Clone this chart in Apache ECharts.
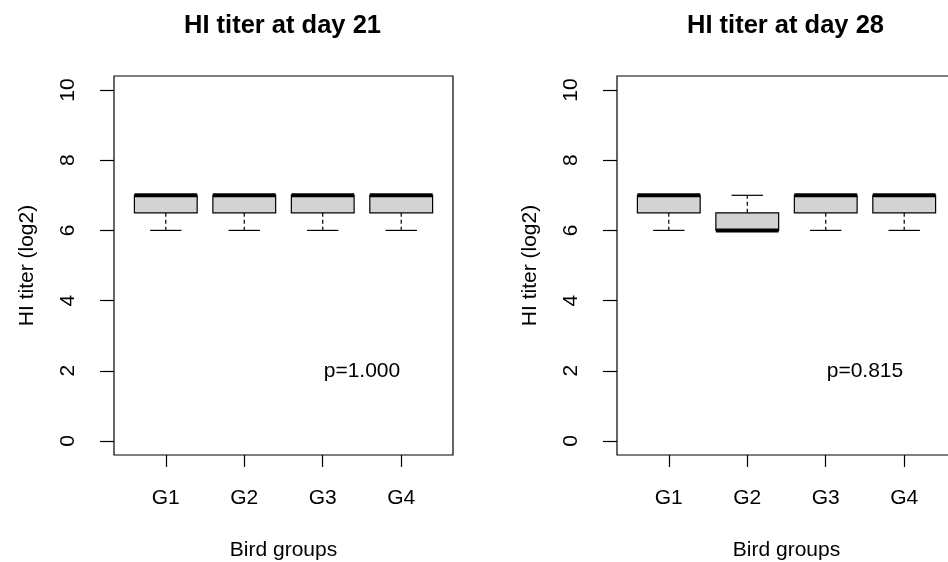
<!DOCTYPE html>
<html>
<head>
<meta charset="utf-8">
<script src="https://cdn.jsdelivr.net/npm/echarts@6/dist/echarts.min.js"></script>
<style>html,body{margin:0;padding:0;background:#fff}#c{width:948px;height:562px}</style>
</head>
<body>
<div id="c"></div>
<script>
// ---- data ----
var categories = ['G1', 'G2', 'G3', 'G4'];
var panelTitles = ['HI titer at day 21', 'HI titer at day 28'];
// [min, Q1, median, Q3, max] per group
var day21Stats = [[6, 6.5, 7, 7, 7], [6, 6.5, 7, 7, 7], [6, 6.5, 7, 7, 7], [6, 6.5, 7, 7, 7]];
var day28Stats = [[6, 6.5, 7, 7, 7], [6, 6, 6, 6.5, 7], [6, 6.5, 7, 7, 7], [6, 6.5, 7, 7, 7]];
var pValueTexts = ['p=1.000', 'p=0.815'];
var pLabelPos = [3.5, 2];
var yTicks = [0, 2, 4, 6, 8, 10];
var xTicks = [1, 2, 3, 4];
var xName = 'Bird groups';
var yName = 'HI titer (log2)';

var FONT = 'Liberation Sans, Arial, sans-serif';
var panels = [day21Stats, day28Stats];
var gridLefts = [114, 617];
var GW = 339, GT = 76, GH = 379;

var option = {
  animation: false,
  backgroundColor: '#fff',
  title: [], grid: [], xAxis: [], yAxis: [], series: []
};

panels.forEach(function (stats, i) {
  option.title.push({
    text: panelTitles[i], left: gridLefts[i] + GW / 2 - 6, top: 8, textAlign: 'center',
    textStyle: { fontFamily: FONT, fontSize: 25.5, fontWeight: 'bold', color: '#000' }
  });
  option.grid.push({
    left: gridLefts[i], top: GT, width: GW, height: GH,
    outerBoundsMode: 'none', containLabel: false,
    show: true, borderColor: '#000', borderWidth: 1.2, backgroundColor: 'transparent'
  });
  option.xAxis.push({
    gridIndex: i, type: 'value', min: 0.34, max: 4.66,
    name: xName, nameLocation: 'middle', nameGap: 85,
    nameTextStyle: { fontFamily: FONT, fontSize: 21, color: '#000' },
    axisLine: { show: false, onZero: false },
    splitLine: { show: false },
    axisTick: { show: true, customValues: xTicks, length: 12, lineStyle: { color: '#000', width: 1.2 } },
    axisLabel: {
      customValues: xTicks, margin: 33, fontFamily: FONT, fontSize: 21, color: '#000',
      formatter: function (v) { return categories[Math.round(v) - 1] || ''; }
    }
  });
  option.yAxis.push({
    gridIndex: i, type: 'value', min: -0.4, max: 10.4,
    name: yName, nameLocation: 'middle', nameGap: 76, nameRotate: 90,
    nameTextStyle: { fontFamily: FONT, fontSize: 21, color: '#000' },
    axisLine: { show: false, onZero: false },
    splitLine: { show: false },
    axisTick: { show: true, customValues: yTicks, length: 14, lineStyle: { color: '#000', width: 1.2 } },
    axisLabel: {
      customValues: yTicks, rotate: 90, margin: 35, fontFamily: FONT, fontSize: 21, color: '#000'
    }
  });
  option.series.push({
    type: 'custom', xAxisIndex: i, yAxisIndex: i, clip: false,
    data: stats.map(function (s, k) { return [xTicks[k]].concat(s); }),
    encode: { x: 0, y: [1, 2, 3, 4, 5] },
    renderItem: function (params, api) {
      var x = api.value(0);
      var w = api.size([0.8, 0])[0];
      var pMin = api.coord([x, api.value(1)]);
      var pQ1 = api.coord([x, api.value(2)]);
      var pMed = api.coord([x, api.value(3)]);
      var pQ3 = api.coord([x, api.value(4)]);
      var pMax = api.coord([x, api.value(5)]);
      var cx = pMin[0];
      var line = { stroke: '#000', lineWidth: 1.2 };
      var dash = { stroke: '#000', lineWidth: 1.2, lineDash: [4, 3] };
      return {
        type: 'group',
        children: [
          { type: 'line', shape: { x1: cx, y1: pQ1[1], x2: cx, y2: pMin[1] }, style: dash },
          { type: 'line', shape: { x1: cx, y1: pQ3[1], x2: cx, y2: pMax[1] }, style: dash },
          { type: 'line', shape: { x1: cx - w / 4, y1: pMin[1], x2: cx + w / 4, y2: pMin[1] }, style: line },
          { type: 'line', shape: { x1: cx - w / 4, y1: pMax[1], x2: cx + w / 4, y2: pMax[1] }, style: line },
          { type: 'rect', shape: { x: cx - w / 2, y: pQ3[1], width: w, height: pQ1[1] - pQ3[1] },
            style: { fill: '#d3d3d3', stroke: '#000', lineWidth: 1.2 } },
          { type: 'line', shape: { x1: cx - w / 2, y1: pMed[1], x2: cx + w / 2, y2: pMed[1] },
            style: { stroke: '#000', lineWidth: 4 } }
        ]
      };
    }
  });
  option.series.push({
    type: 'custom', xAxisIndex: i, yAxisIndex: i, clip: false,
    data: [[pLabelPos[0], pLabelPos[1], pValueTexts[i]]],
    renderItem: function (params, api) {
      var p = api.coord([api.value(0), api.value(1)]);
      return {
        type: 'text', x: p[0], y: p[1],
        style: { text: pValueTexts[i], font: '21px ' + FONT, fill: '#000', align: 'center', verticalAlign: 'middle' }
      };
    }
  });
});

var chart = echarts.init(document.getElementById('c'), null, { renderer: 'canvas' });
chart.setOption(option);
</script>
</body>
</html>
